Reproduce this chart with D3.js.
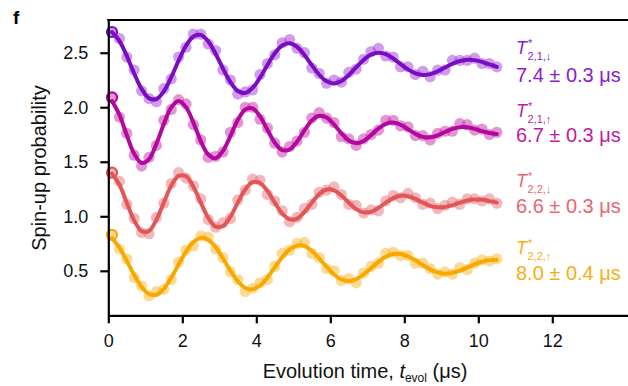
<!DOCTYPE html>
<html><head><meta charset="utf-8">
<script src="https://cdn.jsdelivr.net/npm/d3@7"></script>
<style>
body{margin:0;background:#fff}
svg{display:block}
text{font-family:"Liberation Sans",Arial,Helvetica,sans-serif}
</style>
</head><body>
<svg id="c" width="628" height="386"></svg>
<script>
// ---- data ----
const tEvol = [0.1,0.3,0.5,0.7,0.9,1.1,1.3,1.5,1.7,1.9,2.1,2.3,2.5,2.7,2.9,3.1,3.3,3.5,3.7,3.9,4.1,4.3,4.5,4.7,4.9,5.1,5.3,5.5,5.7,5.9,6.1,6.3,6.5,6.7,6.9,7.1,7.3,7.5,7.7,7.9,8.1,8.3,8.5,8.7,8.9,9.1,9.3,9.5,9.7,9.9,10.1,10.3,10.5];

const dataDown21 = [2.69,2.63,2.46,2.34,2.15,2.08,2.05,2.17,2.26,2.46,2.55,2.67,2.67,2.58,2.52,2.34,2.25,2.12,2.14,2.16,2.30,2.40,2.48,2.59,2.62,2.54,2.50,2.36,2.31,2.22,2.25,2.23,2.32,2.35,2.44,2.51,2.54,2.47,2.46,2.37,2.37,2.30,2.33,2.28,2.34,2.34,2.43,2.43,2.43,2.45,2.40,2.40,2.37];
const fitDown21  = [2.689,2.609,2.471,2.309,2.168,2.083,2.075,2.146,2.275,2.428,2.564,2.649,2.663,2.604,2.491,2.354,2.230,2.149,2.131,2.177,2.271,2.387,2.495,2.566,2.586,2.553,2.479,2.386,2.298,2.238,2.218,2.240,2.296,2.367,2.434,2.482,2.500,2.486,2.447,2.396,2.347,2.311,2.296,2.304,2.329,2.364,2.399,2.424,2.436,2.432,2.416,2.393,2.370];

const dataUp21 = [2.09,1.91,1.76,1.56,1.46,1.54,1.65,1.88,1.98,2.07,2.03,1.84,1.70,1.54,1.55,1.59,1.77,1.86,2.00,2.00,1.89,1.81,1.67,1.59,1.64,1.69,1.77,1.90,1.95,1.90,1.86,1.73,1.71,1.65,1.71,1.75,1.79,1.88,1.88,1.83,1.82,1.74,1.74,1.70,1.76,1.78,1.78,1.85,1.84,1.79,1.80,1.75,1.77];
const fitUp21  = [2.057,1.931,1.744,1.573,1.489,1.524,1.664,1.847,1.998,2.057,2.001,1.859,1.690,1.565,1.532,1.600,1.736,1.882,1.979,1.990,1.916,1.794,1.675,1.607,1.613,1.684,1.787,1.878,1.922,1.906,1.842,1.761,1.695,1.670,1.691,1.744,1.805,1.848,1.860,1.839,1.798,1.756,1.728,1.725,1.743,1.773,1.801,1.817,1.816,1.802,1.781,1.764,1.755];

const dataDown22 = [1.40,1.32,1.11,0.98,0.85,0.84,0.99,1.12,1.30,1.40,1.35,1.28,1.16,0.97,0.90,0.94,0.98,1.15,1.24,1.34,1.33,1.20,1.14,1.05,0.95,0.99,1.07,1.11,1.22,1.24,1.27,1.20,1.11,1.10,1.03,1.06,1.05,1.14,1.19,1.17,1.21,1.17,1.11,1.12,1.07,1.10,1.13,1.11,1.16,1.16,1.14,1.16,1.12];
const fitDown22  = [1.391,1.289,1.125,0.962,0.864,0.866,0.967,1.125,1.279,1.370,1.366,1.271,1.125,0.986,0.906,0.911,0.997,1.125,1.245,1.313,1.306,1.233,1.125,1.026,0.972,0.978,1.039,1.125,1.203,1.245,1.238,1.191,1.125,1.066,1.036,1.041,1.077,1.125,1.167,1.189,1.184,1.159,1.125,1.096,1.082,1.085,1.102,1.125,1.144,1.153,1.151,1.139,1.125];

const dataUp22 = [0.83,0.70,0.61,0.44,0.36,0.27,0.31,0.33,0.42,0.58,0.69,0.73,0.82,0.81,0.70,0.62,0.49,0.42,0.31,0.34,0.39,0.42,0.54,0.66,0.69,0.75,0.76,0.66,0.62,0.52,0.50,0.41,0.43,0.39,0.48,0.54,0.57,0.66,0.67,0.64,0.64,0.57,0.57,0.52,0.47,0.49,0.47,0.53,0.51,0.57,0.60,0.59,0.61];
const fitUp22  = [0.799,0.713,0.591,0.461,0.352,0.287,0.282,0.335,0.435,0.558,0.676,0.764,0.802,0.784,0.716,0.614,0.501,0.404,0.343,0.330,0.365,0.438,0.532,0.625,0.696,0.731,0.726,0.682,0.613,0.536,0.466,0.420,0.406,0.423,0.466,0.524,0.582,0.629,0.654,0.655,0.633,0.596,0.553,0.513,0.485,0.474,0.481,0.501,0.529,0.559,0.583,0.598,0.600];

const xTicks = [0,2,4,6,8,10,12];
const yTicks = [0.5,1.0,1.5,2.0,2.5];
const labelSubs = ["2,1,\u2193","2,1,\u2191","2,2,\u2193","2,2,\u2191"];
const labelVals = ["7.4 \u00b1 0.3 \u03bcs","6.7 \u00b1 0.3 \u03bcs","6.6 \u00b1 0.3 \u03bcs","8.0 \u00b1 0.4 \u03bcs"];

// ---- styling ----
const lineColors = ["#7a0cc4","#b3079e","#e25656","#f8a900"];
const dotColors  = ["#a33ad8","#c62aa8","#e8707a","#f9b62a"];
const textColors = ["#8a20cc","#c01aa3","#e9646e","#f6ae12"];
const tBase = [54,117,187,254];
const vBase = [82,142,213,280];

const series = [
  {data:dataDown21, fit:fitDown21},
  {data:dataUp21, fit:fitUp21},
  {data:dataDown22, fit:fitDown22},
  {data:dataUp22, fit:fitUp22}
];

const svg = d3.select("#c");
const x = d3.scaleLinear().domain([0,14.2]).range([108.3,633.7]);
const y = d3.scaleLinear().domain([0.092,2.8]).range([315.3,20]);

// data layers
const line = d3.line().x((d,i)=>x(tEvol[i])).y(d=>y(d)).curve(d3.curveCatmullRom.alpha(0.5));
series.forEach((s,si)=>{
  const g = svg.append("g");
  g.selectAll("circle.dot").data(s.data).enter().append("circle")
    .attr("class","dot")
    .attr("cx",(d,i)=>x(tEvol[i])).attr("cy",d=>y(d)).attr("r",5.6)
    .attr("fill",dotColors[si]).attr("fill-opacity",0.5);
  g.append("path").datum(s.fit).attr("d",line)
    .attr("fill","none").attr("stroke",lineColors[si]).attr("stroke-width",4)
    .attr("stroke-linecap","round").attr("stroke-linejoin","round");
  g.append("circle").attr("cx",x(tEvol[0])).attr("cy",y(s.data[0])).attr("r",5)
    .attr("fill","none").attr("stroke",lineColors[si]).attr("stroke-width",2.2);
});

// axes
const xAxis = d3.axisBottom(x).tickValues(xTicks).tickFormat(d3.format("d")).tickSize(8).tickSizeOuter(0).tickPadding(11);
const gx = svg.append("g").attr("transform","translate(0,315.3)").call(xAxis);
const yAxis = d3.axisLeft(y).tickValues(yTicks).tickFormat(d3.format(".1f")).tickSize(8).tickSizeOuter(0).tickPadding(12);
const gy = svg.append("g").attr("transform","translate(108.3,0)").call(yAxis);
[gx,gy].forEach(g=>{
  g.select(".domain").attr("stroke","#000").attr("stroke-width",2.2);
  g.selectAll(".tick line").attr("stroke","#000").attr("stroke-width",2.2);
  g.selectAll(".tick text").attr("fill","#111").style("font-size","18px")
   .style("font-family","'Liberation Sans',Arial,sans-serif");
});
// top spine
svg.append("line").attr("x1",x(0)-1.1).attr("x2",x(14.2)).attr("y1",y(2.8)).attr("y2",y(2.8))
  .attr("stroke","#000").attr("stroke-width",2.2);

// axis titles
const xl = svg.append("text").attr("x",365).attr("y",378).attr("text-anchor","middle")
  .attr("fill","#111").style("font-size","20px");
xl.append("tspan").text("Evolution time, ");
xl.append("tspan").text("t").style("font-style","italic");
xl.append("tspan").text("evol").style("font-size","12px").attr("dy",4);
xl.append("tspan").text(" (\u03bcs)").attr("dy",-4);

svg.append("text").attr("transform","translate(46,168) rotate(-90)").attr("text-anchor","middle")
  .attr("fill","#111").style("font-size","20px").text("Spin-up probability");

svg.append("text").attr("x",13).attr("y",24).style("font-size","19px").style("font-weight","bold")
  .attr("fill","#000").text("f");

// right-hand labels
labelVals.forEach((v,i)=>{
  const g = svg.append("g").attr("fill",textColors[i]);
  g.append("text").attr("x",516).attr("y",tBase[i]).style("font-size","18px").style("font-style","italic").text("T");
  g.append("text").attr("x",528).attr("y",tBase[i]-7).style("font-size","11px").text("*");
  g.append("text").attr("x",527.5).attr("y",tBase[i]+6).style("font-size","11px").text(labelSubs[i]);
  g.append("text").attr("x",516).attr("y",vBase[i]).style("font-size","20px").text(v);
});
</script>
</body></html>
